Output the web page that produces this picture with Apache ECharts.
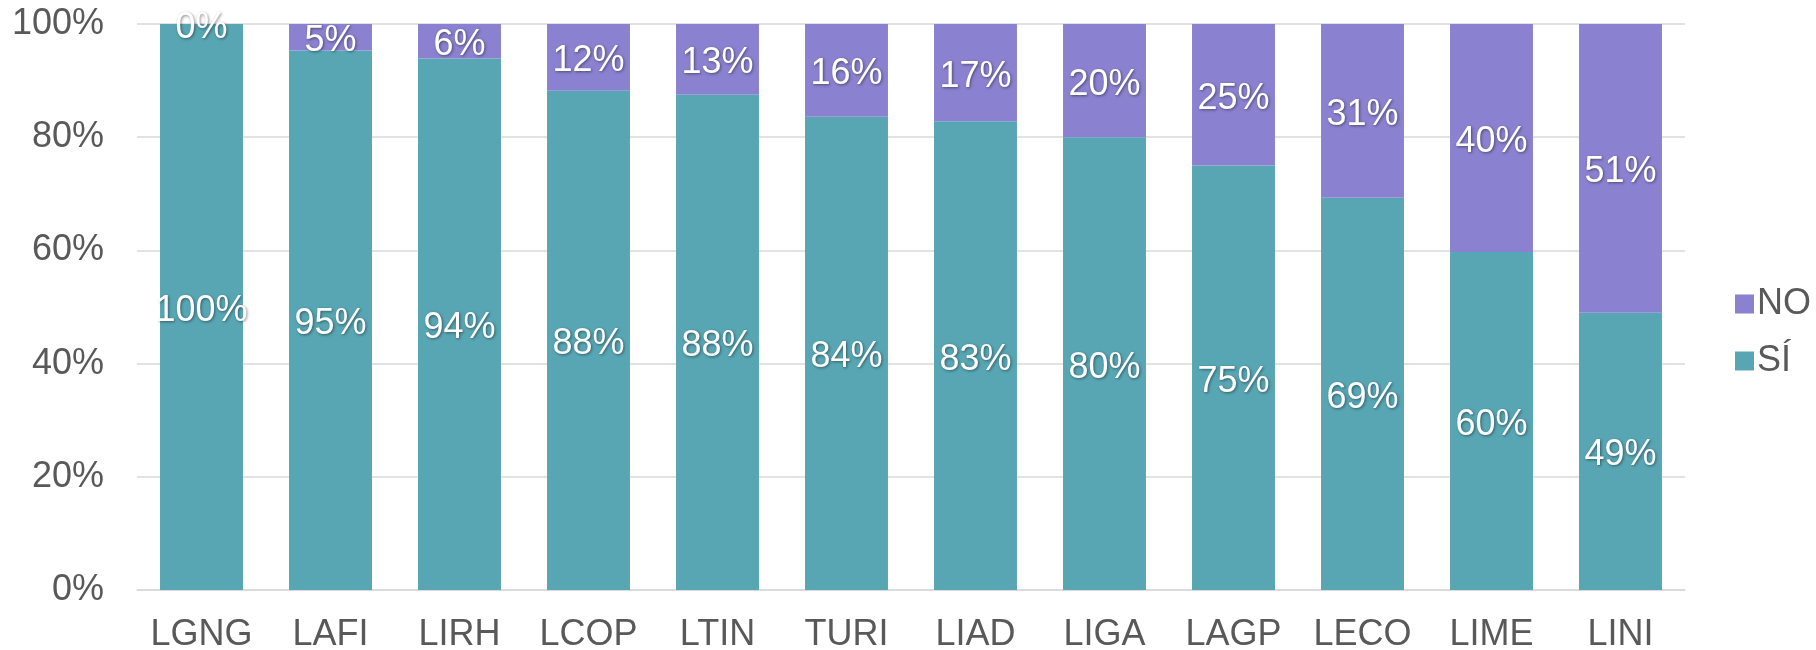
<!DOCTYPE html>
<html>
<head>
<meta charset="utf-8">
<script src="https://cdn.jsdelivr.net/npm/echarts@6/dist/echarts.min.js"></script>
<style>
html,body{margin:0;padding:0;background:#fff;}
#chart{width:1816px;height:650px;}
</style>
</head>
<body>
<div id="chart"></div>
<script>
const categories = ['LGNG','LAFI','LIRH','LCOP','LTIN','TURI','LIAD','LIGA','LAGP','LECO','LIME','LINI'];
const siValues = [100, 95.3, 93.9, 88.2, 87.5, 83.6, 82.8, 80.0, 75.0, 69.3, 59.7, 49.0];
const noValues = [0, 4.7, 6.1, 11.8, 12.5, 16.4, 17.2, 20.0, 25.0, 30.7, 40.3, 51.0];
const yTicks = [0, 20, 40, 60, 80, 100];

const FONT = '"Liberation Sans", Arial, sans-serif';
const TEXT = '#595959';
const labelStyle = {
  show: true,
  position: 'inside',
  offset: [0, 4],
  color: '#ffffff',
  fontSize: 36,
  fontFamily: FONT,
  textShadowColor: 'rgba(0,0,0,0.45)',
  textShadowBlur: 3,
  textShadowOffsetX: 1,
  textShadowOffsetY: 1,
  formatter: p => Math.round(p.value) + '%'
};

const chart = echarts.init(document.getElementById('chart'), null, {renderer: 'canvas'});
chart.setOption({
  animation: false,
  backgroundColor: '#ffffff',
  grid: {left: 137, right: 131, top: 24, bottom: 60, containLabel: false, outerBoundsMode: 'none'},
  legend: {
    data: ['NO', 'SÍ'],
    orient: 'vertical',
    left: 1730,
    top: 281,
    itemWidth: 19,
    itemHeight: 19,
    itemGap: 21,
    icon: 'rect',
    textStyle: {color: TEXT, fontSize: 36, fontFamily: FONT, padding: [0,0,0,-2]}
  },
  xAxis: {
    type: 'category',
    data: categories,
    axisLine: {show: true, lineStyle: {color: '#d9d9d9', width: 1.5}},
    axisTick: {show: false},
    axisLabel: {color: TEXT, fontSize: 36, fontFamily: FONT, margin: 27, interval: 0}
  },
  yAxis: {
    type: 'value',
    min: yTicks[0],
    max: yTicks[yTicks.length - 1],
    interval: 20,
    axisLine: {show: false},
    axisTick: {show: false},
    splitLine: {lineStyle: {color: '#d9d9d9', width: 1.5}},
    axisLabel: {color: TEXT, fontSize: 36, fontFamily: FONT, margin: 33, formatter: v => v + '%'}
  },
  series: [
    {
      name: 'SÍ',
      type: 'bar',
      stack: 'total',
      data: siValues,
      barCategoryGap: '35.7%',
      itemStyle: {color: '#58A6B4'},
      label: labelStyle
    },
    {
      name: 'NO',
      type: 'bar',
      stack: 'total',
      data: noValues,
      itemStyle: {color: '#8A82D0'},
      label: labelStyle
    }
  ]
});
</script>
</body>
</html>
